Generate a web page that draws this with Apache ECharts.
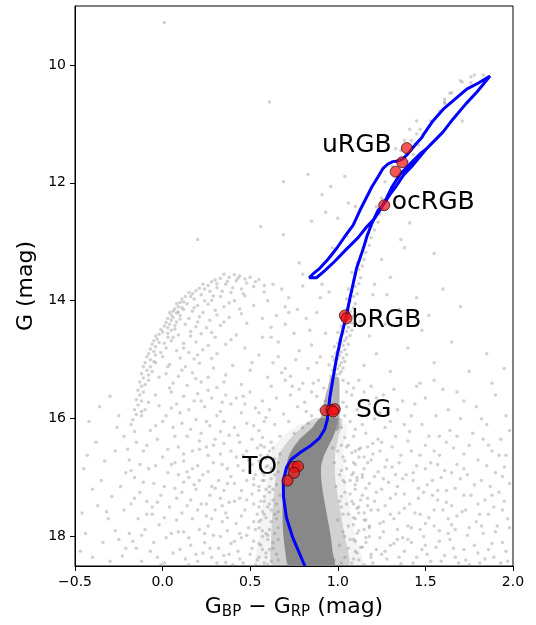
<!DOCTYPE html>
<html><head><meta charset="utf-8">
<script src="https://cdn.jsdelivr.net/npm/echarts@6/dist/echarts.min.js"></script>
<style>html,body{margin:0;padding:0;background:#fff}#c{width:536px;height:625px}</style>
</head><body><div id="c"></div>
<script>
// ---- axis ticks ----
const xTicks = [-0.5, 0.0, 0.5, 1.0, 1.5, 2.0];
const yTicks = [10, 12, 14, 16, 18];

// ---- isochrone (colour, G) ----
const isoC = [0.812,0.743,0.707,0.690,0.689,0.707,0.735,0.783,0.840,0.895,0.925,0.940,0.946,0.954,0.973,0.993,1.017,1.050,1.069,1.107,1.145,1.166,1.194,1.229,1.260,1.297,1.335,1.377,1.429,1.507,1.600,1.657,1.731,1.794,1.869,
  1.800,1.736,1.669,1.602,1.543,1.487,1.495,1.480,1.446,1.402,1.373,1.343,1.314,1.286,1.257,1.229,1.194,1.160,1.126,1.087,1.040,0.994,0.943,0.897,0.857,0.837,
  0.878,0.926,0.983,1.051,1.116,1.164,1.211,1.246,1.278,1.309,1.354,1.411,1.469,1.507];
const isoG = [18.50,18.02,17.68,17.33,17.05,16.83,16.69,16.58,16.47,16.33,16.18,16.02,15.88,15.65,15.31,14.97,14.64,14.24,13.96,13.45,13.12,12.91,12.69,12.47,12.37,12.20,12.05,11.86,11.70,11.42,11.14,10.92,10.66,10.46,10.19,
  10.31,10.41,10.58,10.75,10.95,11.19,11.16,11.23,11.34,11.50,11.59,11.63,11.64,11.68,11.76,11.90,12.07,12.27,12.47,12.72,12.91,13.11,13.30,13.45,13.55,13.61,
  13.61,13.49,13.33,13.12,12.93,12.75,12.60,12.44,12.26,12.07,11.86,11.68,11.51,11.42];

// ---- highlighted stars ----
const starC = [1.394,1.367,1.330,1.265,1.040,1.050,0.931,0.964,0.983,0.973,0.750,0.773,0.750,0.713];
const starG = [11.41,11.65,11.81,12.38,14.25,14.30,15.86,15.85,15.84,15.88,16.82,16.81,16.92,17.05];

// ---- phase labels ----
const labelText = ['uRGB','ocRGB','bRGB','SG','TO'];
const labelC = [1.109,1.545,1.278,1.205,0.554];
const labelG = [11.36,12.34,14.33,15.86,16.83];

// ---- dense cluster main sequence / turnoff (rows: G, left colour, right colour) ----
const coreG = [18.50,18.25,18.00,17.75,17.50,17.25,17.00,16.80,16.60,16.45,16.30,16.15,16.00];
const coreL = [0.72,0.70,0.69,0.685,0.685,0.69,0.695,0.705,0.725,0.755,0.80,0.855,0.895];
const coreR = [0.98,0.97,0.96,0.945,0.93,0.915,0.905,0.905,0.925,0.95,0.975,0.99,1.00];
const sgG = [16.20,16.00,15.80,15.60,15.45,15.30];
const sgL = [0.86,0.90,0.915,0.93,0.945,0.96];
const sgR = [1.00,1.01,1.01,1.01,1.01,1.005];
const midG = [18.50,18.00,17.50,17.00,16.60,16.30,16.00];
const midL = [0.63,0.62,0.63,0.645,0.665,0.74,0.86];
const midR = [1.06,1.04,1.01,0.985,0.985,1.005,1.025];
const outG = [18.50,18.00,17.50,17.00,16.50,16.10];
const outL = [0.54,0.55,0.57,0.60,0.63,0.78];
const outR = [1.14,1.10,1.07,1.04,1.03,1.05];

// ---- individual field / cluster stars ----
const arcEdge = [[0.50,13.60],[0.47,13.63],[0.44,13.58],[0.41,13.56],[0.38,13.60],[0.35,13.55],[0.33,13.62],[0.30,13.65],[0.28,13.68],[0.26,13.74],[0.23,13.72],[0.21,13.79],[0.19,13.83],[0.17,13.88],[0.15,13.86],[0.13,13.93],[0.11,13.97],[0.10,14.03],[0.08,14.05],[0.09,14.10],[0.07,14.14],[0.06,14.18],[0.08,14.21],[0.05,14.24],[0.04,14.20],[0.06,14.28],[0.03,14.30],[0.05,14.33],[0.02,14.37],[0.04,14.40],[0.01,14.43],[0.03,14.46],[-0.01,14.49],[0.00,14.53],[-0.02,14.57],[-0.04,14.60],[-0.03,14.65],[-0.05,14.68],[-0.02,14.71],[-0.06,14.74],[-0.04,14.78],[-0.07,14.82],[-0.05,14.86],[-0.08,14.90],[-0.09,14.95],[-0.07,15.00],[-0.10,15.05],[-0.11,15.12],[-0.09,15.18],[-0.12,15.24],[-0.11,15.31],[-0.13,15.38],[-0.12,15.45],[-0.14,15.52],[-0.13,15.60],[-0.15,15.68],[-0.14,15.77],[-0.16,15.85],[-0.15,15.93],[-0.17,16.02]];
const arcExtra = [[0.43,13.62],[0.37,13.67],[0.31,13.71],[0.24,13.80],[0.16,13.93],[0.12,14.02],[0.11,14.12],[0.09,14.19],[0.10,14.31],[0.07,14.42],[0.05,14.50],[0.03,14.62],[0.01,14.72],[-0.01,14.88],[-0.04,14.92],[-0.05,15.03],[-0.07,15.12],[-0.08,15.26],[-0.10,15.42],[-0.11,15.55],[-0.12,15.70],[-0.12,15.88],
  [0.53,13.68],[0.58,13.74],[0.40,13.78],[0.34,13.84],[0.46,13.88],[0.29,13.92],[0.24,14.00],[0.38,14.04],[0.18,14.12],[0.31,14.24],[0.45,14.22],[0.20,14.36],[0.35,14.36],[0.16,14.52],[0.28,14.54],[0.39,14.66],[0.06,14.62],[0.12,14.80],[0.20,14.92],[0.28,14.98],[0.03,15.12],[0.11,15.18],[0.19,15.32],[-0.02,15.30],[0.04,15.48],[0.26,15.52],[0.35,15.38],[0.51,15.05],[0.57,14.62],[0.65,14.25]];
const arcInner = [[0.42,13.66],[0.48,13.70],[0.55,13.64],[0.36,13.72],[0.31,13.78],[0.45,13.80],[0.52,13.76],[0.27,13.84],[0.39,13.86],[0.22,13.90],[0.33,13.93],[0.58,13.85],[0.47,13.92],[0.18,13.97],[0.28,13.99],[0.41,14.00],[0.63,13.72],[0.68,13.80],
  [0.14,14.05],[0.20,14.08],[0.26,14.06],[0.35,14.10],[0.12,14.15],[0.17,14.18],[0.23,14.20],[0.30,14.16],[0.44,14.14],[0.52,14.08],[0.10,14.25],[0.15,14.30],[0.21,14.27],[0.27,14.33],[0.38,14.28],[0.08,14.36],[0.13,14.40],[0.19,14.44],[0.25,14.46],[0.33,14.42],[0.48,14.38],[0.57,14.30],[0.62,14.45],[0.07,14.48],[0.72,14.20],
  [0.03,14.55],[0.09,14.58],[0.16,14.60],[0.22,14.56],[0.30,14.62],[0.42,14.58],[0.05,14.68],[0.12,14.72],[0.19,14.70],[0.26,14.76],[0.36,14.74],[0.02,14.80],[0.08,14.85],[0.15,14.88],[0.23,14.83],[0.31,14.90],[0.47,14.80],[0.55,14.92],[0.00,14.95],[0.10,14.97],[0.18,14.99],[0.66,14.70],[0.78,14.85],
  [-0.04,15.05],[0.04,15.08],[0.13,15.12],[0.21,15.06],[0.29,15.14],[0.40,15.10],[-0.06,15.20],[0.02,15.24],[0.09,15.28],[0.17,15.22],[0.26,15.30],[0.36,15.26],[0.50,15.18],[-0.08,15.35],[0.06,15.40],[0.14,15.44],[0.22,15.38],[0.31,15.47],[0.45,15.42],[0.60,15.30],[0.70,15.15],[0.80,15.40],
  [0.60,14.00],[0.70,14.10],[0.82,14.30],[0.75,14.55],[0.85,14.75],[0.66,14.95],[0.88,15.05],[0.73,15.28],[0.90,13.95],[0.80,13.75],
  [0.62,14.62],[0.70,14.40],[0.77,14.15],[0.84,14.50],[0.90,14.95],[0.68,15.22],[0.83,15.15],[0.93,14.55],[0.88,14.20],[0.72,13.95],[0.95,13.85],[0.80,13.55],[0.63,15.05],[0.76,15.00]];
const rgbBand = [[0.96,15.28],[0.99,15.26],[1.01,15.24],[0.98,15.22],[1.02,15.20],[0.97,15.18],[1.00,15.16],[1.03,15.14],[0.98,15.12],[1.01,15.10],[0.95,15.09],[0.99,15.07],[1.02,15.05],[1.04,15.03],[0.98,15.01],[1.00,14.99],[1.03,14.97],[0.97,14.95],[1.01,14.93],[1.05,14.91],[0.99,14.89],[1.02,14.87],[1.00,14.85],[1.04,14.83],[1.01,14.80],[0.98,14.78],[1.03,14.76],[1.06,14.74],[1.00,14.72],[1.02,14.70],
  [1.04,14.68],[1.01,14.66],[1.05,14.63],[1.02,14.61],[1.07,14.59],[1.03,14.56],[1.00,14.54],[1.05,14.52],[1.08,14.50],[1.03,14.47],[1.06,14.45],[1.02,14.43],[1.04,14.40],[1.08,14.38],[1.05,14.35],[1.03,14.33],[1.07,14.30],[1.04,14.28],[1.09,14.26],[1.06,14.23],[1.03,14.21],
  [1.07,14.18],[1.05,14.15],[1.09,14.12],[1.06,14.08],[1.10,14.05],[1.07,14.01],[1.05,13.97],[1.09,13.93],[1.11,13.88],[1.08,13.84],[1.06,13.80],[1.10,13.76],[1.12,13.71],[1.09,13.66],[1.13,13.61],[1.10,13.56],[1.08,13.52],
  [1.12,13.47],[1.14,13.41],[1.11,13.36],[1.15,13.30],[1.13,13.24],[1.16,13.18],[1.14,13.12],[1.18,13.06],[1.16,13.00],[1.19,12.93],[1.17,12.87],[1.21,12.80],[1.19,12.74],[1.23,12.67],[1.21,12.60],[1.24,12.53],[1.26,12.45],[1.22,12.40],[1.28,12.32],[1.25,12.26]];
const upperStars = [[1.30,12.18],[1.33,12.05],[1.27,11.98],[1.35,11.90],[1.38,11.80],[1.31,11.72],[1.40,11.64],[1.43,11.52],[1.36,11.45],[1.46,11.36],[1.42,11.28],[1.45,11.17],[1.47,11.09],[1.41,11.09],[1.45,10.95],[1.53,10.95],[1.58,10.78],[1.61,10.65],[1.61,10.58],[1.65,10.47],[1.64,10.48],[1.71,10.95],[1.70,10.27],[1.76,10.30],[1.78,10.17],[1.83,10.17],[1.76,10.20],[1.71,10.29],[1.33,11.42],[1.38,11.28],[1.61,10.63],
  [0.61,10.63],[0.83,11.86],[0.69,11.98],[0.91,12.20],[0.96,12.06],[1.04,11.89],[1.06,12.34],[1.10,12.40],[0.56,12.74],[0.69,12.88],[0.85,12.65],[0.20,12.96],[1.36,12.96],[1.41,12.68],[0.78,13.36],[0.91,13.72],[0.01,9.28],[0.93,12.50],[1.00,12.60],[1.05,12.90],[0.97,13.10],[1.21,13.72],[1.55,13.20],[1.28,13.90]];
const fieldLeftFar = [[-0.42,16.05],[-0.30,15.62],[-0.25,15.95],[-0.38,16.40],[-0.22,16.30],[-0.45,16.85],[-0.33,16.72],[-0.27,16.55],[-0.21,16.92],[-0.40,17.20],[-0.35,17.05],[-0.29,17.32],[-0.24,17.15],[-0.46,17.60],[-0.37,17.48],[-0.31,17.70],[-0.22,17.55],[-0.44,17.95],[-0.34,18.10],[-0.27,17.90],[-0.21,18.20],[-0.40,18.35],[-0.30,18.42],[-0.23,18.33],[-0.47,18.25],[-0.36,15.80],[-0.26,16.15],[-0.43,16.62],[-0.32,17.58],[-0.25,18.05]];
const fieldLeftMid = [[-0.18,16.10],[-0.10,15.85],[-0.04,15.60],[0.05,15.55],[-0.15,16.40],[-0.07,16.20],[0.02,15.95],[0.08,15.75],[-0.19,16.70],[-0.11,16.55],[-0.03,16.35],[0.06,16.15],[-0.16,17.00],[-0.08,16.85],[0.00,16.65],[0.09,16.48],[-0.13,17.25],[-0.05,17.10],[0.03,16.92],[-0.18,17.45],[-0.09,17.40],[-0.01,17.30],[0.07,17.18],[-0.14,17.70],[-0.06,17.62],[0.04,17.50],[-0.19,17.95],[-0.10,17.88],[-0.02,17.80],[0.08,17.72],[-0.15,18.20],[-0.05,18.10],[0.02,18.02],[-0.12,18.42],[-0.03,18.35],[0.06,18.28],[-0.08,15.72],[0.00,16.05],[-0.13,16.78],[0.05,16.78],[-0.06,17.50],[0.09,17.92],[-0.17,18.08],[0.01,18.45],[-0.20,16.52],[0.09,16.95],[0.05,15.82]];
const fieldLeftNear = [[0.12,15.62],[0.20,15.58],[0.28,15.65],[0.36,15.60],[0.15,15.85],[0.24,15.80],[0.33,15.88],[0.39,15.75],[0.11,16.08],[0.19,16.02],[0.27,16.12],[0.35,16.05],[0.14,16.30],[0.22,16.25],[0.30,16.35],[0.38,16.28],[0.17,16.55],[0.25,16.48],[0.33,16.60],[0.12,16.72],[0.20,16.80],[0.29,16.75],[0.37,16.85],[0.15,17.00],[0.23,16.95],[0.32,17.05],[0.39,16.98],[0.11,17.25],[0.19,17.20],[0.27,17.30],[0.35,17.22],[0.14,17.48],[0.22,17.45],[0.30,17.55],[0.38,17.42],[0.17,17.70],[0.25,17.65],[0.34,17.75],[0.12,17.92],[0.21,17.88],[0.29,17.98],[0.37,17.90],[0.16,18.15],[0.24,18.10],[0.32,18.20],[0.39,18.12],[0.13,18.38],[0.20,18.42],[0.28,18.35],[0.36,18.44],[0.18,15.70],[0.31,15.95],[0.26,16.62],[0.35,16.42],[0.18,17.12],[0.28,17.15],[0.36,17.60],[0.23,18.28],[0.31,18.45],[0.14,16.90],[0.33,17.35],[0.26,17.82],[0.38,18.30],[0.21,16.38]];
const fieldLeftClose = [[0.42,15.65],[0.50,15.55],[0.57,15.70],[0.45,15.90],[0.53,15.82],[0.59,15.98],[0.41,16.15],[0.48,16.08],[0.55,16.20],[0.44,16.40],[0.51,16.35],[0.58,16.48],[0.42,16.65],[0.49,16.70],[0.56,16.62],[0.46,16.88],[0.53,16.95],[0.59,16.82],[0.41,17.10],[0.48,17.05],[0.55,17.15],[0.44,17.35],[0.51,17.28],[0.58,17.40],[0.47,17.55],[0.54,17.62],[0.42,17.78],[0.49,17.85],[0.56,17.72],[0.45,18.02],[0.52,18.08],[0.59,17.95],[0.43,18.25],[0.50,18.30],[0.57,18.22],[0.46,18.45],[0.54,18.40],[0.48,16.55],[0.52,17.45],[0.57,18.00],[0.44,17.95],[0.58,16.05],[0.47,15.75],[0.55,17.85],[0.50,16.90],[0.59,17.20],[0.53,18.48]];
const fieldLeftExtra = [[-0.12,15.95],[-0.02,15.78],[0.10,15.90],[0.22,15.70],[0.34,15.72],[0.46,15.62],[0.55,15.90],
  [-0.16,16.22],[-0.04,16.12],[0.07,16.30],[0.16,16.18],[0.25,16.05],[0.33,16.22],[0.43,16.28],[0.52,16.12],[0.57,16.32],
  [-0.09,16.45],[0.03,16.52],[0.12,16.60],[0.21,16.52],[0.29,16.45],[0.39,16.55],[0.46,16.62],[0.54,16.50],
  [-0.18,16.88],[-0.04,16.80],[0.07,16.75],[0.17,16.85],[0.26,16.90],[0.34,16.78],[0.43,16.80],[0.51,16.78],[0.57,16.92],
  [-0.11,17.08],[0.01,17.15],[0.12,17.08],[0.21,17.05],[0.30,17.18],[0.37,17.10],[0.45,17.22],[0.52,17.12],[0.57,17.05],
  [-0.16,17.35],[-0.03,17.42],[0.08,17.35],[0.16,17.38],[0.25,17.45],[0.34,17.48],[0.41,17.40],[0.48,17.38],[0.55,17.50],
  [-0.09,17.62],[0.01,17.68],[0.11,17.60],[0.20,17.55],[0.28,17.70],[0.37,17.68],[0.45,17.65],[0.52,17.75],[0.58,17.62],
  [-0.12,17.98],[0.05,17.95],[0.15,18.02],[0.24,17.95],[0.33,18.00],[0.41,18.08],[0.48,17.98],[0.55,18.12],
  [-0.07,18.25],[0.10,18.22],[0.19,18.30],[0.27,18.20],[0.35,18.32],[0.44,18.38],[0.51,18.20],[0.58,18.45],[-0.01,18.48],[0.15,18.48],[0.40,18.48]];
const sgLeft = [[0.62,15.45],[0.70,15.35],[0.78,15.50],[0.86,15.40],[0.65,15.65],[0.73,15.60],[0.81,15.72],[0.88,15.62],[0.61,15.85],[0.69,15.92],[0.77,15.80],[0.85,15.95],[0.64,16.10],[0.72,16.05],[0.80,16.15],[0.87,16.20],[0.67,16.30],[0.75,16.25],[0.62,16.40],[0.83,16.08],[0.90,15.85],[0.74,15.45],
  [0.85,15.55],[0.89,15.35],[0.92,15.48],[0.82,15.88],[0.91,16.05],[0.88,16.12],[0.93,15.70],[0.84,16.25],[0.79,16.35],[0.90,16.28]];
const sgRight = [[1.06,15.40],[1.12,15.35],[1.19,15.45],[1.08,15.60],[1.15,15.55],[1.22,15.65],[1.05,15.80],[1.11,15.85],[1.18,15.75],[1.24,15.90],[1.07,16.05],[1.14,16.10],[1.21,16.00],[1.09,16.30],[1.16,16.25],[1.23,16.35],[1.06,16.45],[1.13,16.50],[1.20,16.42],
  [1.03,15.35],[1.05,15.55],[1.03,15.72],[1.04,15.95],[1.02,16.15],[1.04,16.32],[1.09,15.48],[1.10,16.18]];
const fieldRight1 = [[1.12,16.65],[1.20,16.60],[1.28,16.70],[1.36,16.62],[1.15,16.85],[1.23,16.90],[1.31,16.82],[1.39,16.95],[1.11,17.05],[1.18,17.10],[1.26,17.02],[1.34,17.15],[1.14,17.30],[1.22,17.25],[1.30,17.35],[1.38,17.28],[1.12,17.50],[1.19,17.55],[1.27,17.48],[1.35,17.60],[1.16,17.72],[1.24,17.78],[1.32,17.70],[1.40,17.82],[1.11,17.95],[1.18,18.00],[1.26,17.92],[1.34,18.05],[1.14,18.18],[1.22,18.22],[1.30,18.15],[1.38,18.25],[1.12,18.40],[1.20,18.45],[1.28,18.38],[1.36,18.46],[1.25,16.40],[1.33,16.30],[1.29,15.90],[1.37,15.70],[1.32,15.50],[1.27,16.15],[1.38,16.10],[1.17,16.75],[1.33,16.95],[1.21,17.40],[1.15,17.88],[1.37,18.02],[1.25,18.30]];
const fieldRight2 = [[1.42,16.55],[1.50,16.45],[1.58,16.62],[1.66,16.50],[1.45,16.80],[1.53,16.75],[1.61,16.88],[1.68,16.78],[1.43,17.05],[1.51,17.12],[1.59,17.00],[1.67,17.18],[1.46,17.35],[1.54,17.30],[1.62,17.42],[1.44,17.60],[1.52,17.68],[1.60,17.55],[1.68,17.65],[1.47,17.88],[1.55,17.82],[1.63,17.95],[1.42,18.10],[1.50,18.15],[1.58,18.08],[1.66,18.20],[1.45,18.35],[1.53,18.42],[1.61,18.32],[1.69,18.45],[1.48,16.10],[1.56,15.95],[1.64,16.20],[1.44,15.75],[1.60,15.50],[1.52,16.30],[1.70,16.00],[1.47,15.40],[1.57,17.22],[1.65,17.80],[1.49,18.00]];
const fieldRight3 = [[1.72,16.60],[1.80,16.70],[1.88,16.55],[1.95,16.82],[1.74,16.95],[1.82,17.05],[1.90,16.92],[1.98,17.10],[1.76,17.30],[1.84,17.38],[1.92,17.25],[1.73,17.55],[1.81,17.62],[1.89,17.50],[1.97,17.70],[1.75,17.85],[1.83,17.95],[1.91,17.82],[1.78,18.15],[1.86,18.22],[1.94,18.10],[1.73,18.40],[1.81,18.45],[1.89,18.35],[1.97,18.42],[1.77,16.25],[1.85,16.10],[1.93,16.35],[1.79,15.80],[1.90,15.60],[1.96,15.95],[1.86,16.45]];
const fieldRightExtra = [[1.10,16.55],[1.17,16.48],[1.24,16.55],[1.31,16.48],[1.40,16.38],[1.47,16.62],[1.55,16.55],[1.62,16.40],[1.75,16.45],[1.83,16.35],[1.92,16.62],
  [1.09,16.75],[1.19,16.70],[1.27,16.82],[1.35,16.75],[1.43,16.92],[1.50,16.85],[1.57,16.78],[1.65,16.92],[1.72,16.85],[1.85,16.80],[1.96,16.62],
  [1.08,16.95],[1.14,17.00],[1.21,16.98],[1.29,17.08],[1.37,17.02],[1.46,17.18],[1.54,17.05],[1.62,17.22],[1.70,17.02],[1.78,17.12],[1.87,17.15],[1.94,16.98],
  [1.10,17.20],[1.17,17.35],[1.25,17.20],[1.33,17.28],[1.41,17.45],[1.49,17.25],[1.57,17.38],[1.65,17.48],[1.72,17.30],[1.80,17.45],[1.88,17.30],[1.95,17.40],
  [1.09,17.45],[1.15,17.60],[1.23,17.55],[1.30,17.62],[1.38,17.52],[1.47,17.62],[1.55,17.55],[1.63,17.70],[1.71,17.58],[1.79,17.75],[1.86,17.62],[1.94,17.55],
  [1.10,17.70],[1.18,17.82],[1.26,17.75],[1.34,17.88],[1.42,17.85],[1.50,17.78],[1.58,17.90],[1.67,17.88],[1.74,17.98],[1.82,17.82],[1.90,17.92],[1.98,17.85],
  [1.09,18.05],[1.16,18.10],[1.24,18.02],[1.32,18.12],[1.40,18.05],[1.48,18.22],[1.56,18.18],[1.64,18.05],[1.72,18.22],[1.80,18.28],[1.88,18.12],[1.96,18.25],
  [1.11,18.28],[1.19,18.35],[1.27,18.25],[1.35,18.35],[1.43,18.45],[1.51,18.30],[1.59,18.42],[1.67,18.35],[1.75,18.48],[1.84,18.38],[1.93,18.45],
  [1.26,15.60],[1.34,15.85],[1.42,15.95],[1.50,15.65],[1.63,15.85],[1.72,15.70],[1.82,16.00],[1.98,16.20],[1.41,16.22],[1.58,16.30],[1.68,16.30],[1.30,16.05],[1.45,15.45],[1.55,15.35],[1.68,15.55],[1.88,15.40]];
const upperRight = [[1.15,15.10],[1.22,14.90],[1.30,15.20],[1.18,14.60],[1.40,14.80],[1.27,14.40],[1.55,15.05],[1.35,14.15],[1.48,14.50],[1.65,14.70],[1.20,13.90],[1.30,13.60],[1.75,15.20],[1.45,13.95],[1.25,13.30],[1.60,13.80],[1.85,14.90],[1.38,13.10],[1.52,14.25],[1.70,14.10],[1.95,15.15],[1.13,14.35]];
const haloLeft = [[0.61,16.55],[0.64,16.68],[0.60,16.80],[0.66,16.90],[0.62,17.02],[0.65,17.12],[0.61,17.25],[0.63,17.38],[0.60,17.50],[0.64,17.62],[0.62,17.75],[0.66,17.85],[0.60,17.98],[0.63,18.10],[0.61,18.22],[0.65,18.30],[0.62,18.42],[0.67,16.60],[0.67,17.30],[0.66,18.05],[0.58,16.95],[0.57,17.58],[0.59,18.35],
  [0.56,16.45],[0.60,16.62],[0.63,16.50],[0.55,16.72],[0.59,16.68],[0.62,16.85],[0.56,16.85],[0.64,16.95],[0.58,17.05],[0.61,17.15],[0.55,17.22],[0.63,17.20],[0.58,17.32],[0.65,17.45],[0.61,17.45],[0.56,17.40],[0.62,17.55],[0.59,17.68],[0.65,17.70],[0.55,17.75],[0.61,17.88],[0.57,17.90],[0.64,17.95],[0.60,18.05],[0.56,18.15],[0.63,18.20],[0.59,18.28],[0.66,18.40],[0.55,18.35],[0.60,18.48],[0.66,16.75],[0.66,17.58],[0.52,17.02],[0.53,17.88]];
const haloRight = [[1.00,16.55],[1.03,16.65],[0.98,16.75],[1.05,16.85],[1.01,16.95],[1.07,17.05],[0.99,17.15],[1.04,17.25],[1.08,17.40],[1.02,17.50],[1.06,17.62],[1.00,17.72],[1.09,17.80],[1.03,17.92],[1.07,18.05],[1.01,18.15],[1.10,18.25],[1.04,18.35],[1.08,18.45],[0.97,16.50],[1.05,16.48],[1.11,17.00],[1.12,17.60],[0.98,18.40],
  [1.02,16.45],[1.08,16.58],[1.12,16.52],[1.04,16.72],[1.10,16.78],[1.15,16.65],[1.02,16.88],[1.09,16.92],[1.14,16.95],[1.04,17.08],[1.10,17.12],[1.16,17.18],[1.02,17.32],[1.07,17.28],[1.13,17.38],[1.05,17.45],[1.11,17.52],[1.17,17.48],[1.03,17.62],[1.09,17.68],[1.15,17.72],[1.06,17.82],[1.12,17.90],[1.18,17.85],[1.04,18.00],[1.10,18.08],[1.16,18.02],[1.06,18.20],[1.13,18.18],[1.19,18.30],[1.02,18.45],[1.09,18.38],[1.15,18.48],[1.01,17.40],[1.03,17.05]];

const FONT = 'DejaVu Sans';
const grayPts = [].concat(arcEdge, arcExtra, arcInner, rgbBand, upperStars, fieldLeftFar, fieldLeftMid, fieldLeftNear, fieldLeftClose, fieldLeftExtra,
  sgLeft, sgRight, fieldRight1, fieldRight2, fieldRight3, fieldRightExtra, upperRight, haloLeft, haloRight);

function band(Gs, Ls, Rs, fill) {
  return {
    type: 'custom', silent: true, z: 1, clip: true,
    data: [[Ls[0], Gs[0]]],
    renderItem: function (params, api) {
      const pts = [];
      for (let i = 0; i < Gs.length; i++) pts.push(api.coord([Ls[i], Gs[i]]));
      for (let i = Gs.length - 1; i >= 0; i--) pts.push(api.coord([Rs[i], Gs[i]]));
      return { type: 'polygon', shape: { points: pts, smooth: 0.2 }, style: { fill: fill } };
    }
  };
}

const chart = echarts.init(document.getElementById('c'), null, { renderer: 'canvas' });
chart.setOption({
  backgroundColor: '#ffffff',
  animation: false,
  grid: { left: 75, top: 6, width: 438, height: 563, show: true, borderColor: '#000', borderWidth: 1, backgroundColor: 'transparent' },
  xAxis: {
    type: 'value', min: -0.5, max: 2.0, interval: 0.5,
    axisLine: { show: true, onZero: false, lineStyle: { color: '#000', width: 1 } },
    axisTick: { show: true, length: 5, lineStyle: { color: '#000' } },
    splitLine: { show: false },
    axisLabel: { margin: 9, fontSize: 14, color: '#000', fontFamily: FONT,
      formatter: v => (v < 0 ? '\u2212' : '') + Math.abs(v).toFixed(1) },
    name: '{n|G}{s|BP}{n| \u2212 G}{s|RP}{n| (mag)}',
    nameLocation: 'middle', nameGap: 28,
    nameTextStyle: { rich: {
      n: { fontSize: 22, fontFamily: FONT, color: '#000', lineHeight: 26 },
      s: { fontSize: 15, fontFamily: FONT, color: '#000', lineHeight: 14, verticalAlign: 'bottom' }
    } }
  },
  yAxis: {
    type: 'value', inverse: true, min: 9, max: 18.5,
    axisLine: { show: true, onZero: false, lineStyle: { color: '#000', width: 1 } },
    axisTick: { show: true, length: 5, lineStyle: { color: '#000' }, customValues: yTicks },
    splitLine: { show: false },
    axisLabel: { margin: 9, fontSize: 14, color: '#000', fontFamily: FONT, customValues: yTicks },
    name: 'G (mag)', nameLocation: 'middle', nameGap: 33, nameRotate: 90,
    nameTextStyle: { fontSize: 22, fontFamily: FONT, color: '#000' }
  },
  series: [
    band(outG, outL, outR, 'rgba(128,128,128,0.09)'),
    band(midG, midL, midR, 'rgba(128,128,128,0.30)'),
    band(sgG, sgL, sgR, 'rgba(128,128,128,0.6)'),
    band(coreG, coreL, coreR, '#888888'),
    {
      type: 'scatter', silent: true, z: 2, symbolSize: 3.5,
      itemStyle: { color: 'rgba(128,128,128,0.45)' },
      data: grayPts
    },
    {
      type: 'line', silent: true, z: 3, showSymbol: false, symbol: 'none',
      lineStyle: { color: '#0000ff', width: 3 },
      data: isoC.map((c, i) => [c, isoG[i]])
    },
    {
      type: 'scatter', silent: true, z: 4, symbolSize: 11,
      itemStyle: { color: 'rgba(240,20,20,0.9)', borderColor: 'rgba(40,0,0,0.85)', borderWidth: 1 },
      data: starC.map((c, i) => [c, starG[i]])
    },
    {
      type: 'custom', silent: true, z: 5, clip: false,
      data: labelC.map((c, i) => [c, labelG[i]]),
      renderItem: function (params, api) {
        const p = api.coord([api.value(0), api.value(1)]);
        return { type: 'text', x: p[0], y: p[1],
          style: { text: labelText[params.dataIndex], fill: '#000000', opacity: 1,
            font: '25px "DejaVu Sans"', align: 'center', verticalAlign: 'middle' } };
      }
    }
  ]
});
</script>
</body></html>
